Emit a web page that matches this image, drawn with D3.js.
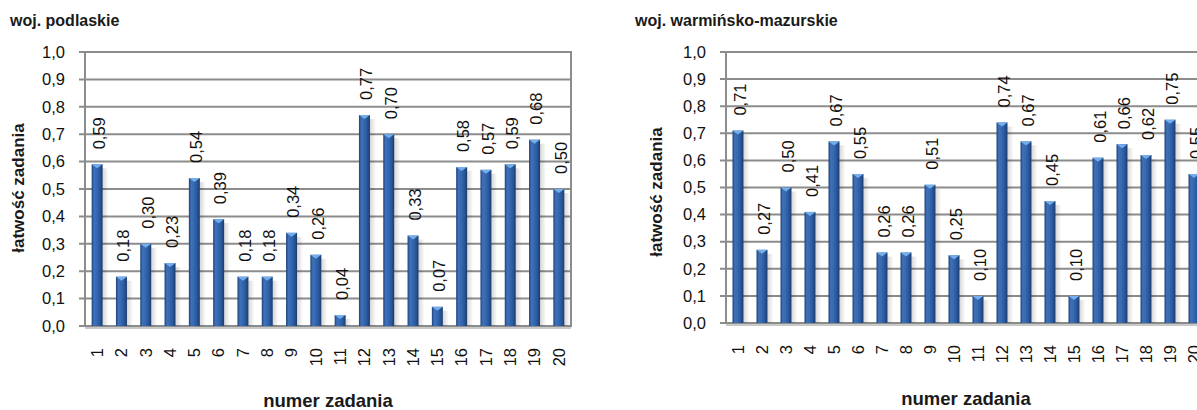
<!DOCTYPE html>
<html>
<head>
<meta charset="utf-8">
<script src="https://cdn.jsdelivr.net/npm/d3@7/dist/d3.min.js"></script>
<style>
  html, body { margin: 0; padding: 0; background: #fff; overflow: hidden; }
  svg { display: block; font-family: "Liberation Sans", Arial, sans-serif; }
</style>
</head>
<body>
<svg id="chart" width="1197" height="410"></svg>
<script>
// ---- data ----
const categories = ["1","2","3","4","5","6","7","8","9","10","11","12","13","14","15","16","17","18","19","20"];
const podlaskieValues = [0.59,0.18,0.30,0.23,0.54,0.39,0.18,0.18,0.34,0.26,0.04,0.77,0.70,0.33,0.07,0.58,0.57,0.59,0.68,0.50];
const warminskoValues = [0.71,0.27,0.50,0.41,0.67,0.55,0.26,0.26,0.51,0.25,0.10,0.74,0.67,0.45,0.10,0.61,0.66,0.62,0.75,0.55];
const yTicks = [0,0.1,0.2,0.3,0.4,0.5,0.6,0.7,0.8,0.9,1.0];
const titles = ["woj. podlaskie", "woj. warmińsko-mazurskie"];
const xAxisTitle = "numer zadania";
const yAxisTitle = "łatwość zadania";

const svg = d3.select("#chart");
const fmt = v => v.toFixed(2).replace(".", ",");
const fmtTick = v => v.toFixed(1).replace(".", ",");

const defs = svg.append("defs");
const grad = defs.append("linearGradient").attr("id", "barGrad")
  .attr("x1", "0%").attr("x2", "100%").attr("y1", "0%").attr("y2", "0%");
[["0%","#1f4179"],["22%","#3e72bb"],["45%","#3669b2"],["75%","#295799"],["100%","#1b3a6b"]]
  .forEach(([o,c]) => grad.append("stop").attr("offset", o).attr("stop-color", c));
const shadow = defs.append("linearGradient").attr("id", "shadowGrad")
  .attr("x1", "0%").attr("x2", "100%");
shadow.append("stop").attr("offset", "0%").attr("stop-color", "#000").attr("stop-opacity", 0.16);
shadow.append("stop").attr("offset", "100%").attr("stop-color", "#000").attr("stop-opacity", 0);

function drawChart(cfg) {
  const g = svg.append("g");
  const x = d3.scaleBand().domain(categories).range([cfg.left, cfg.right]).paddingInner(0).paddingOuter(0);
  const y = d3.scaleLinear().domain([0, 1]).range([cfg.bottom, cfg.top]);
  const bw = 11;

  // title
  g.append("text").attr("x", cfg.titleX).attr("y", 26)
    .attr("font-size", 16).attr("font-weight", "bold").attr("fill", "#1a1a1a")
    .text(cfg.title);

  // gridlines
  g.append("g").selectAll("line").data(yTicks).join("line")
    .attr("x1", cfg.left - 6).attr("x2", cfg.right)
    .attr("y1", d => y(d)).attr("y2", d => y(d))
    .attr("stroke", "#8c8c8c").attr("stroke-width", 2);
  // axis lines / wall border
  g.append("line").attr("x1", cfg.left).attr("x2", cfg.left)
    .attr("y1", y(1) - 1).attr("y2", y(0) + 1)
    .attr("stroke", "#8c8c8c").attr("stroke-width", 2);
  g.append("line").attr("x1", cfg.right).attr("x2", cfg.right)
    .attr("y1", y(1) - 1).attr("y2", y(0) + 1)
    .attr("stroke", "#8c8c8c").attr("stroke-width", 2);
  g.append("line").attr("x1", cfg.left).attr("x2", cfg.right)
    .attr("y1", y(0) + 2).attr("y2", y(0) + 2)
    .attr("stroke", "#c8c8c8").attr("stroke-width", 2);

  // y tick labels
  g.append("g").selectAll("text").data(yTicks).join("text")
    .attr("x", cfg.left - 20).attr("y", d => y(d)).attr("dy", "0.35em")
    .attr("text-anchor", "end").attr("font-size", 16.5).attr("fill", "#111")
    .text(fmtTick);

  const bars = g.append("g").selectAll("g").data(cfg.values).join("g")
    .attr("transform", (d, i) => `translate(${x(categories[i]) + x.bandwidth() / 2},0)`);
  // shadow
  bars.append("rect").attr("x", bw / 2).attr("width", 6)
    .attr("y", d => y(d) + 4).attr("height", d => y(0) - y(d) - 4)
    .attr("fill", "url(#shadowGrad)");
  bars.append("rect").attr("x", -bw / 2).attr("width", bw)
    .attr("y", d => y(d)).attr("height", d => y(0) - y(d))
    .attr("fill", "url(#barGrad)");
  bars.append("path")
    .attr("d", d => `M${-bw/2},${y(d)} L${bw/2},${y(d)} L0,${y(d) + 4} Z`)
    .attr("fill", "#74aeea");
  // value labels
  bars.append("text")
    .attr("transform", d => `translate(2,${y(d) - 15}) rotate(-90)`)
    .attr("dy", "0.35em").attr("font-size", 16.5).attr("fill", "#111")
    .text(fmt);

  // x tick labels
  g.append("g").selectAll("text").data(categories).join("text")
    .attr("transform", d => `translate(${x(d) + x.bandwidth() / 2},${cfg.bottom + 22}) rotate(-90)`)
    .attr("dy", "0.35em").attr("text-anchor", "end").attr("font-size", 16.5).attr("fill", "#111")
    .text(d => d);

  // axis titles
  g.append("text").attr("x", (cfg.left + cfg.right) / 2).attr("y", cfg.xTitleY)
    .attr("text-anchor", "middle").attr("font-size", 18.5).attr("font-weight", "bold").attr("fill", "#1a1a1a")
    .text(xAxisTitle);
  g.append("text")
    .attr("transform", `translate(${cfg.yTitleX},${cfg.yTitleY}) rotate(-90)`)
    .attr("dy", "0.35em").attr("text-anchor", "middle")
    .attr("font-size", 17).attr("font-weight", "bold").attr("fill", "#1a1a1a")
    .text(yAxisTitle);
}

drawChart({ title: titles[0], values: podlaskieValues, titleX: 10,
  left: 85, right: 571, top: 52, bottom: 326, xTitleY: 407, yTitleX: 18, yTitleY: 188 });
drawChart({ title: titles[1], values: warminskoValues, titleX: 635,
  left: 726, right: 1206, top: 52, bottom: 323, xTitleY: 405, yTitleX: 656, yTitleY: 192 });
</script>
</body>
</html>
